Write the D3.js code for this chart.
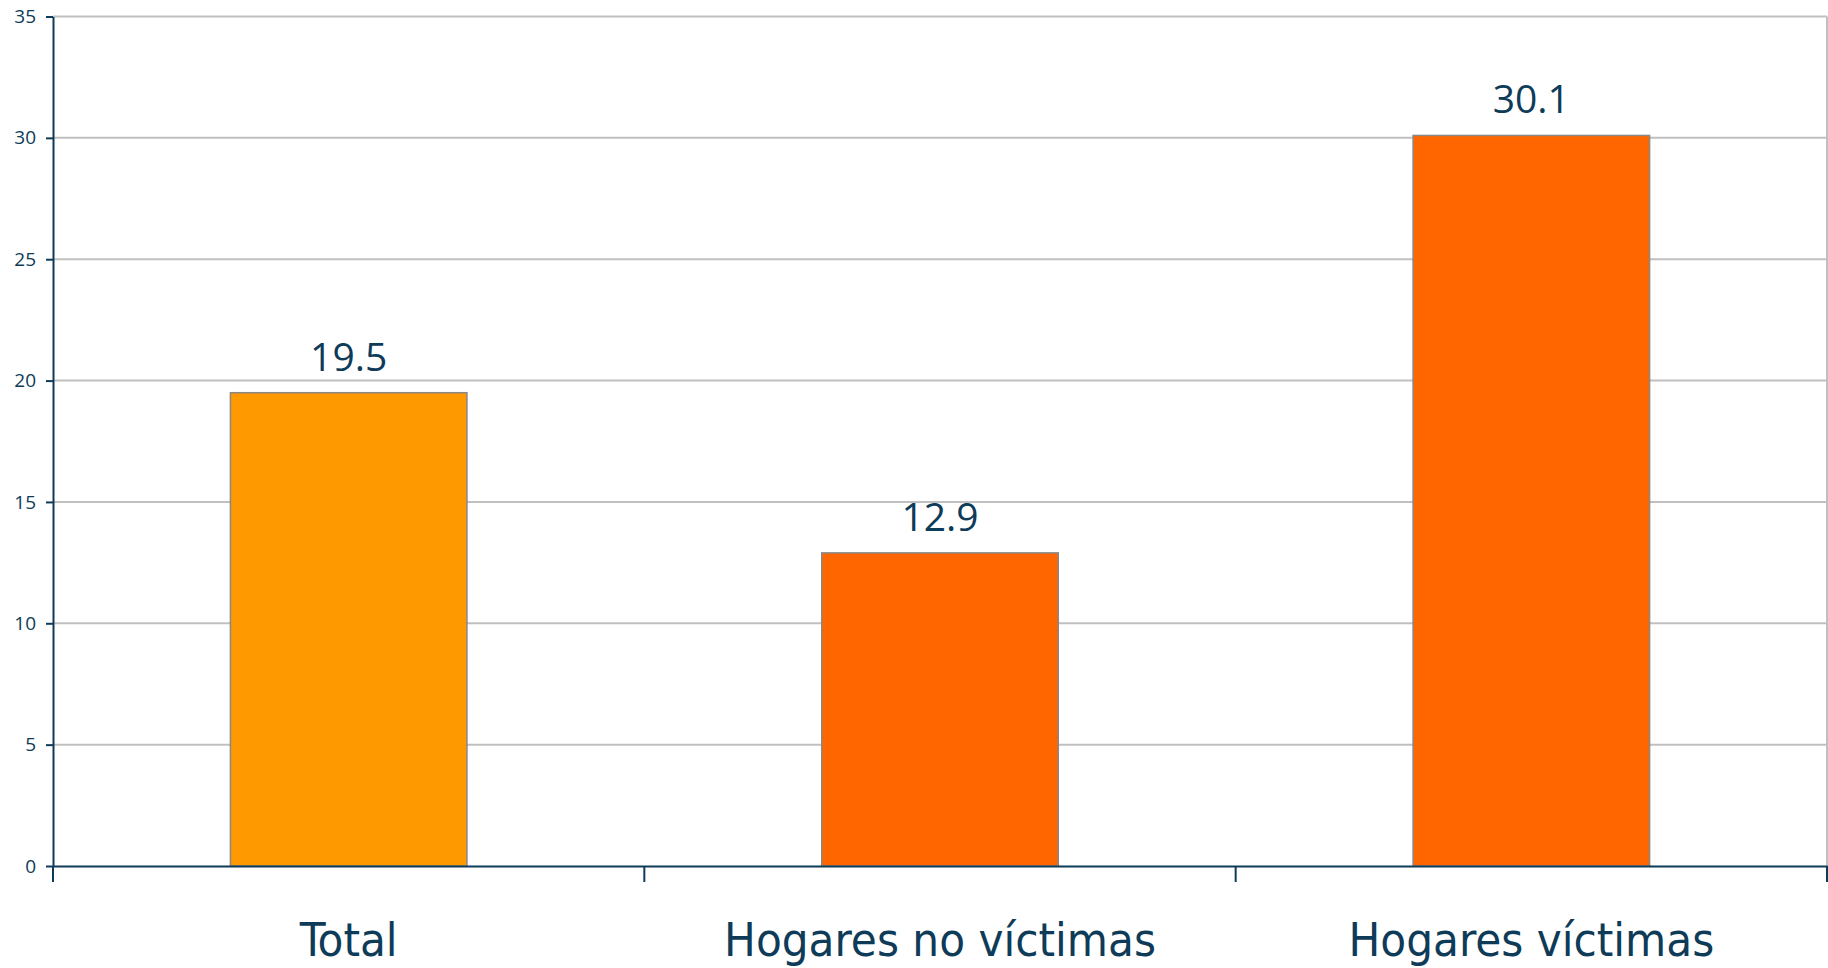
<!DOCTYPE html>
<html lang="es">
<head>
<meta charset="UTF-8">
<title>Hogares</title>
<script src="https://d3js.org/d3.v7.min.js"></script>
<style>
  html, body { margin: 0; padding: 0; background: #fff; }
  svg { display: block; }
  .grid line { stroke: #c0c0c0; stroke-width: 2; }
  .axis path, .axis line { stroke: #0e3b58; stroke-width: 2; }
  .axis text { fill: #0e3b58; }
</style>
</head>
<body>
<svg id="chart" width="1828" height="968"></svg>
<script>
  // datos
  const categorias = ["Total", "Hogares no víctimas", "Hogares víctimas"];
  const valores = [19.5, 12.9, 30.1];
  const colores = ["#ff9900", "#ff6600", "#ff6600"];
  const yTicks = [0, 5, 10, 15, 20, 25, 30, 35];

  const margin = { left: 53, right: 1827, top: 16.5, bottom: 866 };
  const svg = d3.select("#chart");

  const x = d3.scaleBand()
    .domain(categorias)
    .range([margin.left, margin.right])
    .padding(0);

  const y = d3.scaleLinear()
    .domain([0, 35])
    .range([margin.bottom, margin.top]);

  // lineas de cuadricula
  svg.append("g")
    .attr("class", "grid")
    .selectAll("line")
    .data(yTicks.filter(d => d > 0))
    .join("line")
    .attr("x1", margin.left)
    .attr("x2", margin.right)
    .attr("y1", d => y(d))
    .attr("y2", d => y(d));

  // borde derecho
  svg.append("line")
    .attr("x1", margin.right).attr("x2", margin.right)
    .attr("y1", y(35)).attr("y2", y(0))
    .attr("stroke", "#c0c0c0").attr("stroke-width", 2);

  // barras
  const anchoBarra = x.bandwidth() * 0.4;
  svg.append("g")
    .selectAll("rect")
    .data(valores)
    .join("rect")
    .attr("x", (d, i) => x(categorias[i]) + (x.bandwidth() - anchoBarra) / 2)
    .attr("y", d => y(d))
    .attr("width", anchoBarra)
    .attr("height", d => y(0) - y(d))
    .attr("fill", (d, i) => colores[i])
    .attr("stroke", "#888888")
    .attr("stroke-width", 1.5);

  // etiquetas de datos
  svg.append("g")
    .selectAll("text")
    .data(valores)
    .join("text")
    .attr("x", (d, i) => x(categorias[i]) + x.bandwidth() / 2)
    .attr("y", d => y(d) - 22)
    .attr("text-anchor", "middle")
    .attr("font-family", "Open Sans, sans-serif")
    .attr("font-size", 39)
    .attr("fill", "#0e3b58")
    .text(d => d.toFixed(1));

  // eje y
  const ejeY = svg.append("g")
    .attr("class", "axis")
    .attr("transform", `translate(${margin.left},0)`)
    .call(d3.axisLeft(y).tickValues(yTicks).tickSize(7).tickPadding(10).tickSizeOuter(0));
  ejeY.selectAll("text")
    .attr("font-family", "Open Sans, sans-serif")
    .attr("font-size", 19);

  // eje x
  const ejeX = svg.append("g")
    .attr("class", "axis")
    .attr("transform", `translate(0,${margin.bottom})`)
    .call(d3.axisBottom(x).tickSize(0).tickPadding(0).tickFormat(""));

  ejeX.selectAll(".limite")
    .data(d3.range(categorias.length + 1))
    .join("line")
    .attr("class", "limite")
    .attr("x1", i => margin.left + i * x.bandwidth())
    .attr("x2", i => margin.left + i * x.bandwidth())
    .attr("y1", 0)
    .attr("y2", 16);

  ejeX.selectAll(".categoria")
    .data(categorias)
    .join("text")
    .attr("class", "categoria")
    .attr("x", d => x(d) + x.bandwidth() / 2)
    .attr("y", 90)
    .attr("text-anchor", "middle")
    .attr("font-family", "DejaVu Sans Condensed, DejaVu Sans, sans-serif")
    .attr("font-stretch", "condensed")
    .attr("font-size", 47)
    .attr("fill", "#0e3b58")
    .text(d => d);
</script>
</body>
</html>
